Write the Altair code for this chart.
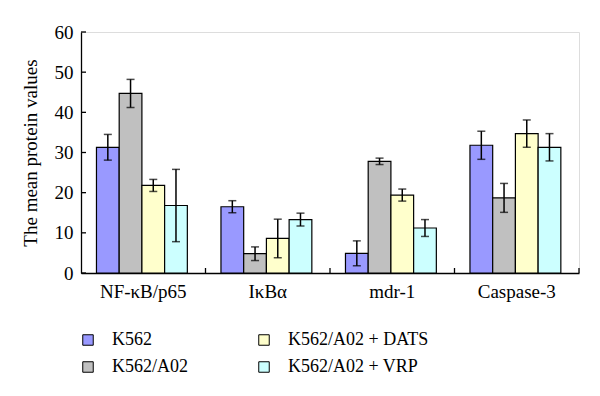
import altair as alt
import pandas as pd

categories = ["NF-κB/p65", "IκBα", "mdr-1", "Caspase-3"]
series = ["K562", "K562/A02", "K562/A02 + DATS", "K562/A02 + VRP"]
colors = ["#9999FF", "#C0C0C0", "#FFFFCC", "#CCFFFF"]

k562 = [31.3, 16.5, 4.9, 31.8]
k562_a02 = [44.7, 4.8, 27.8, 18.7]
k562_dats = [21.8, 8.6, 19.4, 34.7]
k562_vrp = [16.8, 13.3, 11.2, 31.3]

err_k562 = [3.2, 1.5, 3.1, 3.5]
err_a02 = [3.5, 1.7, 0.8, 3.6]
err_dats = [1.5, 4.8, 1.5, 3.4]
err_vrp = [9.0, 1.6, 2.1, 3.4]

y_ticks = [0, 10, 20, 30, 40, 50, 60]

rows = []
for s, vals, errs in zip(series, [k562, k562_a02, k562_dats, k562_vrp],
                         [err_k562, err_a02, err_dats, err_vrp]):
    for c, v, e in zip(categories, vals, errs):
        rows.append({"cat": c, "series": s, "value": v, "lo": v - e, "hi": v + e})
df = pd.DataFrame(rows)

W, H = 498, 241
FONT = "Liberation Serif"

x_enc = alt.X("cat:N", sort=categories,
              scale=alt.Scale(paddingInner=0, paddingOuter=0),
              axis=alt.Axis(title=None, ticks=False, labelAngle=0, labelFontSize=19,
                            labelFont=FONT, labelColor="black", labelPadding=9,
                            domainColor="black", domainWidth=1.3))
xo_enc = alt.XOffset("series:N", sort=series,
                     scale=alt.Scale(paddingInner=0, paddingOuter=0.74, align=0.46))

base = alt.Chart(df).encode(x=x_enc, xOffset=xo_enc)

bars = base.mark_bar(stroke="black", strokeWidth=1.2).encode(
    y=alt.Y("value:Q", scale=alt.Scale(domain=[0, 60], nice=False),
            axis=alt.Axis(title="The mean protein values", values=y_ticks, ticks=False,
                          grid=False, labelFontSize=19, labelFont=FONT, labelColor="black",
                          labelPadding=8, titleFont=FONT, titleFontSize=19,
                          titleFontWeight="normal", titleColor="black", titlePadding=14,
                          domainColor="black", domainWidth=1.3)),
    color=alt.Color("series:N",
                    scale=alt.Scale(domain=series, range=colors),
                    legend=alt.Legend(title=None, orient="none", legendX=-2, legendY=299,
                                      columns=2, columnPadding=67, rowPadding=9,
                                      symbolType="square", symbolSize=110,
                                      symbolStrokeColor="black", symbolStrokeWidth=1,
                                      labelFont=FONT, labelFontSize=18, labelColor="black",
                                      labelOffset=15)),
)

err = base.mark_rule(color="black", strokeWidth=1.5).encode(
    y="lo:Q", y2="hi:Q")
cap_hi = base.mark_tick(color="black", size=8, thickness=1.5).encode(y="hi:Q")
cap_lo = base.mark_tick(color="black", size=8, thickness=1.5).encode(y="lo:Q")

tick_df = pd.DataFrame({"t": y_ticks})
yticks = alt.Chart(tick_df).mark_rule(color="black", strokeWidth=1.3).encode(
    y="t:Q", x=alt.value(0), x2=alt.value(5))

xt_df = pd.DataFrame({"cat": categories})
xticks = alt.Chart(xt_df).mark_rule(color="black", strokeWidth=1.3).encode(
    x=alt.X("cat:N", sort=categories, bandPosition=1),
    y=alt.value(H), y2=alt.value(H - 5))

chart = alt.layer(bars, err, cap_hi, cap_lo, yticks, xticks).properties(
    width=W, height=H,
    autosize=alt.AutoSizeParams(type="none"),
    padding={"left": 73, "top": 24, "right": 13, "bottom": 115},
).configure_view(stroke=None).configure(background="white")

chart.save("out.html", embed_options={"renderer": "svg", "actions": False})
